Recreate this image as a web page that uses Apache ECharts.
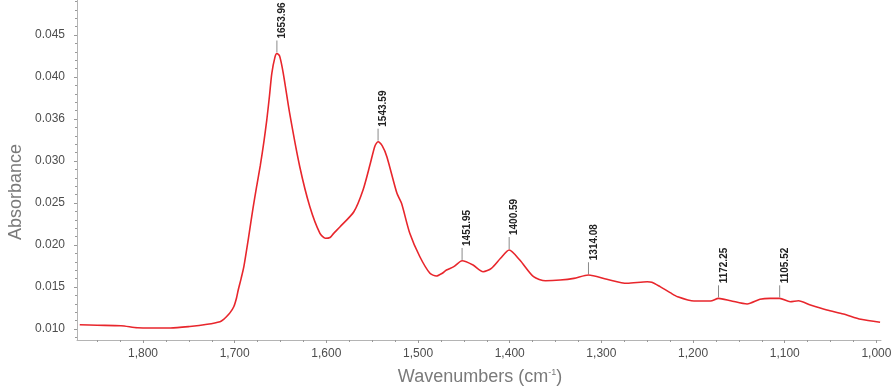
<!DOCTYPE html>
<html>
<head>
<meta charset="utf-8">
<script src="https://cdn.jsdelivr.net/npm/echarts@6/dist/echarts.min.js"></script>
<style>html,body{margin:0;padding:0;background:#fff}#c{width:896px;height:390px}</style>
</head>
<body>
<div id="c"></div>
<script>
// Spectrum (wavenumber cm-1, absorbance)
const wavenumbers = [1869,1850,1824,1806,1790,1770,1749,1730,1716,1712,1709,1705,1701,1698,1696,1693,1690,1685,1680,1676,1672,1668,1665,1662,1659.5,1656,1653.96,1651,1647,1640,1629,1618,1607,1601,1596,1592,1585,1570,1560,1552,1547,1543.59,1539,1534,1523,1518,1509,1498,1487,1480,1474,1469,1461,1451.95,1440,1429,1420,1410,1400.59,1389,1374,1361,1345,1330,1314.08,1294,1272,1250,1245,1236,1225,1217,1199,1181,1172.25,1159,1141,1127,1116,1105.52,1094,1085,1072,1054,1036,1017,996];
const absorbance = [0.01051,0.01045,0.01039,0.01015,0.01012,0.01012,0.01030,0.01056,0.01087,0.01115,0.01146,0.01195,0.01265,0.01370,0.01470,0.01600,0.01742,0.02080,0.02440,0.02700,0.02950,0.03240,0.03488,0.03780,0.04044,0.0424,0.0428,0.0425,0.04044,0.03567,0.02932,0.02456,0.02139,0.0208,0.0209,0.02139,0.02218,0.02396,0.02655,0.02973,0.0318,0.0323,0.0318,0.03051,0.02615,0.02496,0.02139,0.0186,0.01663,0.01631,0.0166,0.01702,0.01742,0.01813,0.01762,0.01682,0.01722,0.01842,0.0194,0.01821,0.01623,0.01575,0.01583,0.01603,0.01643,0.01592,0.01544,0.01563,0.01556,0.01504,0.01433,0.01385,0.01333,0.01333,0.01365,0.01337,0.01298,0.01353,0.01365,0.01365,0.01325,0.01337,0.01286,0.01226,0.01179,0.01115,0.0108];

// Peak annotations
const peakWn = [1653.96,1543.59,1451.95,1400.59,1314.08,1172.25,1105.52];
const peakAbs = [0.0428,0.0323,0.0181,0.0194,0.0164,0.01365,0.01365];
const peakLabels = ['1653.96','1543.59','1451.95','1400.59','1314.08','1172.25','1105.52'];

// Axis ticks
const xTickValues = [1800,1700,1600,1500,1400,1300,1200,1100,1000];
const xTickLabels = ['1,800','1,700','1,600','1,500','1,400','1,300','1,200','1,100','1,000'];
const xMinorTicks = [1850,1825,1775,1750,1725,1675,1650,1625,1575,1550,1525,1475,1450,1425,1375,1350,1325,1275,1250,1225,1175,1150,1125,1075,1050,1025];
const yTickValues = [0.010,0.015,0.020,0.025,0.030,0.035,0.040,0.045];
const yTickLabels = ['0.010','0.015','0.020','0.025','0.030','0.036','0.040','0.045'];
const yMinorTicks = [0.009,0.011,0.012,0.013,0.014,0.016,0.017,0.018,0.019,0.021,0.022,0.023,0.024,0.026,0.027,0.028,0.029,0.031,0.032,0.033,0.034,0.036,0.037,0.038,0.039,0.041,0.042,0.043,0.044,0.046,0.047,0.048,0.049];

const X_MIN = 995, X_MAX = 1872, Y_MIN = 0.00869, Y_MAX = 0.04917;
const FONT = 'Liberation Sans, Arial, sans-serif';
const AXIS_COLOR = '#b4b4b4';
const LABEL_COLOR = '#4d4d4d';

function nearestLabel(vals, labels, v) {
  let best = 0, d = Infinity;
  vals.forEach((t, i) => { const dd = Math.abs(t - v); if (dd < d) { d = dd; best = i; } });
  return labels[best];
}

const chart = echarts.init(document.getElementById('c'), null, {renderer: 'canvas'});
chart.setOption({
  animation: false,
  backgroundColor: '#fff',
  grid: {left: 77, top: 0, right: 15, bottom: 50},
  xAxis: [{
    type: 'value', inverse: true, min: X_MIN, max: X_MAX, position: 'bottom',
    axisLine: {show: true, onZero: false, lineStyle: {color: AXIS_COLOR, width: 1}},
    axisTick: {show: true, length: 3, customValues: xTickValues, lineStyle: {color: '#999'}},
    axisLabel: {show: true, customValues: xTickValues, margin: 8, color: LABEL_COLOR, fontSize: 12, fontFamily: FONT,
      formatter: v => nearestLabel(xTickValues, xTickLabels, v)},
    splitLine: {show: false}
  }, {
    type: 'value', inverse: true, min: X_MIN, max: X_MAX, position: 'bottom', offset: 0,
    axisLine: {show: false, onZero: false},
    axisTick: {show: true, length: 2, customValues: xMinorTicks, lineStyle: {color: '#999'}},
    axisLabel: {show: false},
    splitLine: {show: false}
  }],
  yAxis: [{
    type: 'value', min: Y_MIN, max: Y_MAX, position: 'left',
    axisLine: {show: true, onZero: false, lineStyle: {color: AXIS_COLOR, width: 1}},
    axisTick: {show: true, length: 3, customValues: yTickValues, lineStyle: {color: '#999'}},
    axisLabel: {show: true, customValues: yTickValues, margin: 12, color: LABEL_COLOR, fontSize: 12, fontFamily: FONT,
      formatter: v => nearestLabel(yTickValues, yTickLabels, v)},
    splitLine: {show: false}
  }, {
    type: 'value', min: Y_MIN, max: Y_MAX, position: 'left', offset: 0,
    axisLine: {show: false, onZero: false},
    axisTick: {show: true, length: 2, customValues: yMinorTicks, lineStyle: {color: '#999'}},
    axisLabel: {show: false},
    splitLine: {show: false}
  }],
  series: [{
    type: 'line', xAxisIndex: 0, yAxisIndex: 0,
    data: wavenumbers.map((w, i) => [w, absorbance[i]]),
    showSymbol: false, smooth: 0.25,
    lineStyle: {color: '#e8262c', width: 1.6},
    itemStyle: {color: '#e8262c'}
  }, {
    type: 'custom', xAxisIndex: 0, yAxisIndex: 0,
    data: peakWn.map((w, i) => [w, peakAbs[i]]),
    renderItem: function (params, api) {
      const p = api.coord([api.value(0), api.value(1)]);
      return {
        type: 'group',
        children: [{
          type: 'line',
          shape: {x1: p[0], y1: p[1] - 1, x2: p[0], y2: p[1] - 13},
          style: {stroke: '#8a8a8a', lineWidth: 1}
        }, {
          type: 'text',
          x: p[0] + 5.5, y: p[1] - 15, rotation: Math.PI / 2,
          style: {text: peakLabels[params.dataIndex], font: 'bold 10px ' + FONT, fill: '#222', align: 'left', verticalAlign: 'middle'}
        }]
      };
    }
  }],
  graphic: [{
    type: 'text', x: 16, y: 192, rotation: Math.PI / 2,
    style: {text: 'Absorbance', font: '18px ' + FONT, fill: '#7a7a7a', align: 'center', verticalAlign: 'middle'}
  }, {
    type: 'text', x: 480, y: 377,
    style: {
      text: 'Wavenumbers (cm{sup|-1})', font: '18px ' + FONT, fill: '#7a7a7a', align: 'center', verticalAlign: 'middle',
      rich: {sup: {fontSize: 9, fontFamily: FONT, fill: '#7a7a7a', verticalAlign: 'top', padding: [0, 0, 8, 0]}}
    }
  }]
});
</script>
</body>
</html>
